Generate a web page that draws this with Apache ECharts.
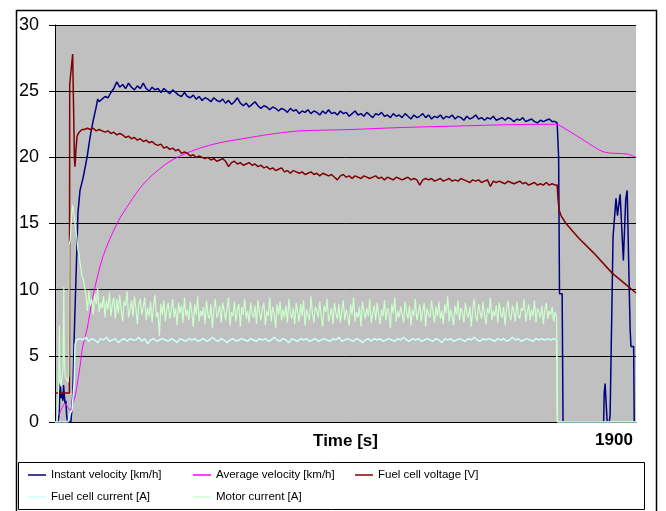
<!DOCTYPE html>
<html>
<head>
<meta charset="utf-8">
<script src="https://cdn.jsdelivr.net/npm/echarts@6/dist/echarts.min.js"></script>
<style>
  html, body { margin: 0; padding: 0; background: #fff; }
  #main { width: 666px; height: 511px; }
</style>
</head>
<body>
<div id="main"></div>
<script>
// series names (legend order)
var names = ['Instant velocity [km/h]', 'Average velocity [km/h]', 'Fuel cell voltage [V]',
             'Fuel cell current [A]', 'Motor current [A]'];
var colors = ['#000080', '#FF00FF', '#800000', '#CCFFFF', '#CCFFCC'];

// x axis
var xMax = 1975;
var xTickLabels = [1900];

// ---- Instant velocity ----
var instStartT = [0, 10, 14, 17, 19, 21, 24, 27, 29, 31, 34, 37, 40, 43, 54, 57, 60, 62, 65, 68, 71, 75, 78, 85, 95, 109, 119, 130, 140, 145, 150, 155];
var instStartV = [0, 0, 0.6, 2.9, 2.5, 1.8, 2.1, 1.6, 2.8, 2.7, 1.4, 1.6, 0.4, 0, 0, 0.8, 1.9, 3.5, 6.2, 8.5, 10.7, 13.5, 15.8, 17.5, 18.4, 20.0, 21.5, 22.8, 23.8, 24.4, 24.2, 24.3];
// every 10 s from t=160 to t=1700
var instNoise = [
  24.4, 24.6, 24.5, 24.9, 25.2, 25.7, 25.3, 25.5, 25.2, 25.6, 25.3, 25.1, 25.4, 25.2, 25.6, 25.2, 25.0, 25.3, 25.1, 25.2,
  24.9, 25.2, 25.0, 24.8, 25.1, 24.9, 24.7, 24.6, 24.9, 24.6, 24.5, 24.7, 24.4, 24.6, 24.3, 24.5, 24.4, 24.2, 24.5, 24.3,
  24.2, 24.4, 24.1, 24.3, 24.0, 24.2, 24.5, 24.1, 23.9, 24.1, 23.8, 24.0, 24.2, 23.9, 23.7, 23.9, 23.8, 23.6, 23.8, 23.7,
  23.5, 23.7, 23.6, 23.4, 23.7, 23.5, 23.6, 23.3, 23.5, 23.4, 23.6, 23.3, 23.5, 23.4, 23.2, 23.5, 23.3, 23.6, 23.3, 23.4,
  23.2, 23.5, 23.3, 23.4, 23.1, 23.3, 23.5, 23.2, 23.3, 23.1, 23.4, 23.2, 23.0, 23.3, 23.2, 23.4, 23.1, 23.2, 23.0, 23.3,
  23.1, 23.2, 23.0, 23.3, 23.1, 22.9, 23.2, 23.0, 23.1, 23.3, 23.0, 23.2, 22.9, 23.1, 23.0, 23.2, 22.9, 23.1, 23.0, 23.2,
  22.9, 23.1, 23.0, 22.8, 23.1, 22.9, 23.0, 23.2, 22.9, 23.0, 22.8, 23.0, 22.9, 23.1, 22.8, 22.9, 23.0, 22.8, 23.0, 22.9,
  22.7, 22.9, 22.8, 23.0, 22.7, 22.8, 22.9, 22.7, 22.6, 22.8, 22.7, 22.8, 22.9, 22.7, 22.7
];
var instEndT = [1707, 1712, 1715, 1720, 1724, 1727, 1865, 1867, 1870, 1874, 1877, 1884, 1887, 1897, 1907, 1912, 1921, 1932, 1940, 1945, 1955, 1958, 1967, 1969, 1975];
var instEndV = [22.6, 20.0, 9.7, 9.7, 9.7, 0, 0, 2.2, 2.9, 2.9, 0, 0, 0.5, 14.0, 16.9, 15.6, 17.2, 12.2, 16.8, 17.5, 7.0, 5.7, 5.7, 0, 0];

// ---- Average velocity ----
var avgT = [14, 20, 27, 34, 44, 51, 58, 68, 78, 85, 95, 109, 129, 163, 211, 255, 290, 323, 360, 391, 435, 493, 560, 663, 750, 833, 1003, 1173, 1343, 1513, 1700, 1712, 1790, 1867, 1945, 1975];
var avgV = [0.5, 0.9, 1.2, 1.4, 1.1, 0.9, 1.2, 1.9, 3.2, 4.2, 5.8, 7.0, 9.5, 12.5, 15.0, 16.6, 17.7, 18.5, 19.2, 19.7, 20.2, 20.7, 21.1, 21.5, 21.8, 22.0, 22.1, 22.25, 22.35, 22.45, 22.5, 22.45, 21.4, 20.4, 20.25, 20.0];

// ---- Fuel cell voltage ----
var fcvStartT = [0, 49, 50, 60, 63, 66, 68, 71, 75, 82, 92];
var fcvStartV = [2.2, 2.2, 25.5, 27.8, 24.0, 20.0, 19.3, 20.5, 21.6, 21.9, 22.1];
// every 10 s from t=100 to t=1700
var fcvNoise = [
  22.1, 22.2, 22.1, 22.2, 22.0, 22.1, 22.0, 21.9, 22.0, 21.8, 21.9, 21.7, 21.8, 21.7, 21.5, 21.6, 21.4, 21.5, 21.3, 21.4,
  21.2, 21.3, 21.1, 21.2, 21.0, 20.9, 21.0, 20.7, 20.8, 20.6, 20.7, 20.5, 20.6, 20.3, 20.4, 20.3, 20.1, 20.2, 20.0, 20.1,
  20.0, 19.9, 20.0, 19.8, 19.9, 19.7, 19.8, 19.9, 19.7, 19.3, 19.6, 19.7, 19.5, 19.6, 19.4, 19.5, 19.6, 19.4, 19.5, 19.3,
  19.4, 19.2, 19.3, 19.1, 19.2, 19.0, 19.1, 19.2, 18.9, 19.0, 18.8, 19.0, 18.9, 18.8, 18.9, 18.7, 18.8, 18.9, 18.7, 18.8,
  18.6, 18.8, 18.7, 18.6, 18.7, 18.5, 18.3, 18.6, 18.7, 18.5, 18.6, 18.4, 18.6, 18.5, 18.4, 18.6, 18.5, 18.4, 18.5, 18.6,
  18.4, 18.5, 18.3, 18.5, 18.4, 18.3, 18.5, 18.4, 18.3, 18.4, 18.5, 18.3, 18.4, 18.3, 17.9, 18.3, 18.4, 18.3, 18.4, 18.2,
  18.3, 18.4, 18.2, 18.3, 18.4, 18.2, 18.3, 18.2, 18.4, 18.3, 18.2, 18.1, 18.3, 18.2, 18.3, 18.1, 18.2, 18.3, 17.8, 18.2,
  18.1, 18.2, 18.1, 18.0, 18.2, 18.1, 18.0, 18.1, 18.2, 18.0, 18.1, 17.9, 18.0, 18.1, 17.9, 18.0, 17.9, 18.1, 17.9, 18.0,
  17.9
];
var fcvEndT = [1707, 1710, 1714, 1720, 1737, 1780, 1830, 1894, 1940, 1975];
var fcvEndV = [17.9, 16.8, 16.0, 15.6, 15.0, 13.9, 12.8, 11.25, 10.4, 9.75];

// ---- Fuel cell current ----
var fccStartT = [0, 44, 51, 58, 61, 65, 68, 72];
var fccStartV = [0, 0, 0.6, 0.9, 1.0, 3.0, 5.8, 6.2];
// every 10 s from t=75 to t=1705
var fccNoise = [
  6.1, 6.3, 6.2, 6.4, 6.1, 6.3, 6.2, 6.0, 6.3, 6.2, 6.4, 6.1, 6.2, 6.3, 6.0, 6.2, 6.3, 6.1, 6.3, 6.2,
  6.2, 6.4, 6.1, 6.3, 5.9, 6.2, 6.3, 6.1, 6.2, 6.3, 6.2, 6.1, 6.3, 6.2, 6.0, 6.3, 6.2, 6.1, 6.3, 6.2,
  6.3, 6.1, 6.2, 6.3, 6.1, 6.2, 6.4, 6.2, 6.1, 6.3, 6.2, 6.0, 6.2, 6.3, 6.1, 6.2, 6.3, 6.2, 6.1, 6.3,
  6.2, 6.1, 6.3, 6.2, 6.3, 6.1, 6.2, 6.4, 6.2, 6.1, 6.3, 6.2, 6.0, 6.3, 6.2, 6.1, 6.3, 6.2, 6.3, 6.1,
  6.2, 6.3, 6.1, 6.2, 6.3, 6.2, 6.1, 6.3, 6.2, 6.4, 6.1, 6.2, 6.3, 6.2, 6.1, 6.3, 6.2, 6.0, 6.2, 6.3,
  6.1, 6.3, 6.2, 6.3, 6.1, 6.2, 6.3, 6.2, 6.1, 6.3, 6.2, 6.4, 6.2, 6.1, 6.3, 6.2, 6.3, 6.1, 6.2, 6.3,
  6.2, 6.1, 6.3, 6.2, 6.0, 6.3, 6.2, 6.3, 6.1, 6.2, 6.3, 6.2, 6.1, 6.3, 6.2, 6.4, 6.2, 6.1, 6.3, 6.2,
  6.3, 6.2, 6.1, 6.3, 6.2, 6.3, 6.1, 6.2, 6.4, 6.2, 6.3, 6.1, 6.2, 6.3, 6.2, 6.1, 6.3, 6.2, 6.3, 6.2,
  6.3, 6.2, 6.3, 6.2
];
var fccEndT = [1708, 1975];
var fccEndV = [0, 0];

// ---- Motor current ----
var motStartT = [0, 7, 10, 13, 15, 17, 20, 24, 27, 30, 32, 35, 40, 44, 47, 48, 52, 56, 60, 63, 67, 70, 74, 78, 81, 85, 89, 92, 96, 100];
var motStartV = [0, 0, 1.0, 3.0, 7.3, 3.2, 2.7, 2.6, 4.0, 10.2, 4.5, 3.4, 3.2, 3.0, 3.6, 13.4, 13.8, 15.5, 16.4, 15.9, 15.2, 14.6, 14.0, 13.0, 12.8, 12.0, 11.5, 11.0, 10.8, 10.3];
// every 5 s from t=105 to t=1705
var motNoise = [
  9.6, 8.4, 9.9, 8.8, 9.3, 8.1, 9.7, 8.9, 10.1, 8.3, 9.0, 8.6, 9.5, 7.9, 9.2, 8.5, 9.8, 8.0, 8.9, 9.4,
  7.8, 9.3, 8.2, 9.6, 8.5, 7.6, 9.1, 8.8, 9.9, 7.9, 8.4, 9.2, 8.0, 9.5, 8.6, 7.4, 8.9, 9.3, 8.1, 8.7,
  9.4, 7.7, 8.6, 8.0, 9.1, 7.5, 8.8, 9.6, 7.9, 8.3, 6.5, 8.9, 8.1, 9.2, 7.6, 8.5, 9.0, 7.8, 8.4, 9.3,
  7.9, 8.6, 7.3, 9.0, 8.2, 8.8, 7.5, 9.4, 8.0, 8.5, 7.7, 9.1, 8.3, 7.2, 8.9, 8.1, 9.5, 7.6, 8.4, 8.0,
  8.7, 7.4, 9.2, 8.1, 7.8, 8.9, 7.1, 8.5, 9.3, 7.9, 8.2, 8.8, 7.5, 9.0, 8.4, 7.7, 8.6, 9.4, 7.3, 8.3,
  8.0, 9.1, 7.6, 8.5, 8.9, 7.2, 8.7, 8.1, 9.3, 7.8, 8.4, 7.5, 9.0, 8.2, 7.9, 8.8, 7.4, 9.2, 8.3, 7.7,
  8.6, 9.0, 7.3, 8.4, 8.0, 9.4, 7.6, 8.7, 8.2, 7.1, 8.9, 8.1, 9.1, 7.7, 8.5, 7.9, 8.8, 7.5, 9.3, 8.2,
  7.8, 8.6, 7.4, 9.0, 8.3, 7.6, 8.9, 8.0, 9.2, 7.3, 8.5, 8.1, 7.7, 9.5, 8.2, 7.5, 8.7, 8.4, 7.9, 9.1,
  8.0, 7.2, 8.8, 8.3, 9.3, 7.6, 8.1, 8.6, 7.4, 9.0, 8.2, 7.8, 8.9, 7.5, 8.4, 9.2, 7.7, 8.5, 8.0, 7.3,
  8.9, 8.1, 9.4, 7.6, 8.3, 7.9, 8.7, 7.2, 9.1, 8.4, 7.8, 8.6, 8.0, 9.3, 7.5, 8.2, 8.8, 7.7, 9.0, 8.1,
  7.4, 8.5, 8.0, 9.2, 7.7, 8.6, 8.3, 7.1, 8.9, 8.2, 9.4, 7.6, 8.4, 7.9, 8.7, 8.1, 7.5, 9.1, 8.3, 7.8,
  8.8, 7.3, 8.5, 8.0, 9.3, 7.7, 8.2, 8.9, 7.6, 8.4, 9.0, 7.2, 8.6, 8.1, 7.9, 9.2, 8.3, 7.5, 8.7, 8.0,
  9.1, 7.8, 8.4, 7.4, 8.9, 8.2, 9.5, 7.6, 8.5, 8.0, 7.3, 8.8, 8.1, 9.2, 7.7, 8.6, 8.3, 7.5, 9.0, 8.2,
  7.9, 8.7, 7.2, 8.5, 9.3, 8.0, 7.6, 8.9, 8.3, 7.8, 9.1, 8.1, 7.4, 8.6, 8.2, 9.4, 7.7, 8.4, 8.0, 8.8,
  7.5, 9.0, 8.2, 7.9, 8.7, 7.3, 8.5, 9.2, 8.0, 7.7, 8.8, 8.3, 7.6, 9.1, 8.1, 7.8, 8.6, 8.4, 9.3, 7.6,
  8.2, 8.9, 7.7, 8.5, 8.0, 9.2, 7.5, 8.6, 8.3, 7.9, 8.8, 7.4, 8.5, 9.0, 7.8, 8.4, 8.1, 8.7, 7.6, 8.3,
  8.0
];
var motEndT = [1708, 1975];
var motEndV = [0, 0];

// helpers
function pairs(ts, vs) {
  var out = [];
  for (var i = 0; i < ts.length; i++) out.push([ts[i], vs[i]]);
  return out;
}
function stepped(t0, dt, vs) {
  var out = [];
  for (var i = 0; i < vs.length; i++) out.push([t0 + i * dt, vs[i]]);
  return out;
}

var instData = pairs(instStartT, instStartV).concat(stepped(160, 10, instNoise), pairs(instEndT, instEndV));
var avgData = pairs(avgT, avgV);
var fcvData = pairs(fcvStartT, fcvStartV).concat(stepped(100, 10, fcvNoise), pairs(fcvEndT, fcvEndV));
var fccData = pairs(fccStartT, fccStartV).concat(stepped(75, 10, fccNoise), pairs(fccEndT, fccEndV));
var motData = pairs(motStartT, motStartV).concat(stepped(105, 5, motNoise), pairs(motEndT, motEndV));

var allData = [instData, avgData, fcvData, fccData, motData];
var widths = [1.5, 1, 1.5, 1.5, 1.2];

var myChart = echarts.init(document.getElementById('main'));

var series = [];
for (var i = 0; i < names.length; i++) {
  series.push({
    name: names[i],
    type: 'line',
    data: allData[i],
    showSymbol: false,
    smooth: i === 1 ? 0.3 : false,
    color: colors[i],
    lineStyle: { width: widths[i], color: colors[i] }
  });
}

var legendText = { fontSize: 11.5, color: '#000', fontFamily: 'Liberation Sans' };
function legendCol(left, data) {
  return {
    left: left, top: 469, orient: 'vertical', padding: 0, itemGap: 10,
    itemWidth: 18, itemHeight: 1.5, icon: 'rect', selectedMode: false,
    textStyle: legendText, data: data
  };
}

myChart.setOption({
  animation: false,
  backgroundColor: '#fff',
  textStyle: { fontFamily: 'Liberation Sans' },
  grid: {
    left: 55, right: 30, top: 25, bottom: 89,
    show: true, backgroundColor: '#C0C0C0', borderWidth: 0
  },
  xAxis: {
    type: 'value', min: 0, max: xMax, interval: 100,
    name: 'Time [s]', nameLocation: 'middle', nameGap: 11, nameMoveOverlap: false,
    nameTextStyle: { fontSize: 17, fontWeight: 'bold', color: '#000', verticalAlign: 'top' },
    axisLine: { lineStyle: { color: '#000', width: 1 } },
    axisTick: { show: false },
    splitLine: { show: false },
    axisLabel: {
      fontSize: 17, fontWeight: 'bold', color: '#000', margin: 10, showMaxLabel: false,
      formatter: function (v) { return xTickLabels.indexOf(v) >= 0 ? String(v) : ''; }
    }
  },
  yAxis: {
    type: 'value', min: 0, max: 30, interval: 5,
    axisLine: { show: true, lineStyle: { color: '#000', width: 1 } },
    axisTick: { show: true, length: 6, lineStyle: { color: '#000' } },
    axisLabel: { fontSize: 18, color: '#000', margin: 16 },
    splitLine: { show: true, lineStyle: { color: '#000', width: 1 } }
  },
  legend: [
    legendCol(28, [names[0], names[3]]),
    legendCol(193, [names[1], names[4]]),
    legendCol(355, [names[2]])
  ],
  graphic: [
    { type: 'rect', shape: { x: 16.5, y: 10.5, width: 640, height: 520 },
      style: { fill: 'none', stroke: '#000', lineWidth: 1.5 }, silent: true },
    { type: 'rect', shape: { x: 18.5, y: 462.5, width: 626, height: 47 },
      style: { fill: 'none', stroke: '#000', lineWidth: 1 }, silent: true }
  ],
  series: series
});
</script>
</body>
</html>
